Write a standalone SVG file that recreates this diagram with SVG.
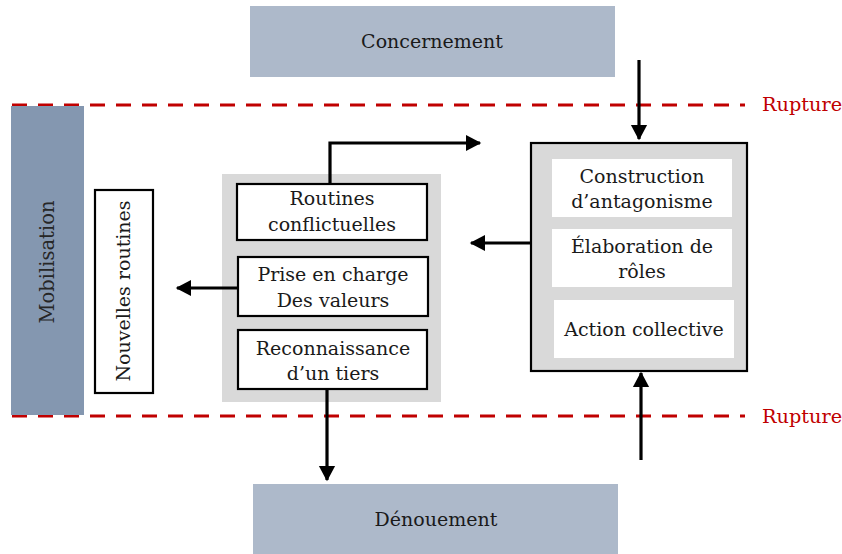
<svg xmlns="http://www.w3.org/2000/svg" width="842" height="554" viewBox="0 0 842 554">
<style>
text{font-family:"DejaVu Serif","Liberation Serif",serif;font-size:19px;fill:#1a1a1a;text-anchor:middle}
.rup{fill:#c00000;font-size:19.3px;text-anchor:start}
.band{fill:#adb9ca}
.box{fill:#fff;stroke:#000;stroke-width:2.2}
.inner{fill:#fff}
.dash{stroke:#c00000;stroke-width:3;stroke-dasharray:15 11;fill:none}
.conn{stroke:#000;stroke-width:3.2;fill:none}
</style>
<defs>
<marker id="ah" markerWidth="6" markerHeight="6" refX="4.4" refY="2.75" orient="auto" markerUnits="strokeWidth">
<path d="M0,0.2 L4.8,2.75 L0,5.3 Z" fill="#000"/>
</marker>
</defs>
<g id="ruptures">
<line class="dash" x1="12" y1="105" x2="745" y2="105"/>
<line class="dash" x1="12" y1="416" x2="745" y2="416"/>
<text class="rup" x="762" y="111">Rupture</text>
<text class="rup" x="762" y="423">Rupture</text>
</g>
<g id="concernement">
<rect class="band" x="250" y="6" width="365" height="71"/>
<text x="432" y="48">Concernement</text>
</g>
<g id="denouement">
<rect class="band" x="253" y="484" width="365" height="70"/>
<text x="436" y="526">Dénouement</text>
</g>
<g id="mobilisation">
<rect x="11" y="106" width="73" height="309" fill="#8497b0"/>
<text transform="translate(54,262) rotate(-90)" style="font-size:19.5px;fill:#262626">Mobilisation</text>
</g>
<g id="nouvelles-routines">
<rect class="box" x="95" y="190" width="58" height="203"/>
<text transform="translate(130,291) rotate(-90)">Nouvelles routines</text>
</g>
<g id="groupe-gauche">
<rect x="222" y="174" width="219" height="228" fill="#d9d9d9"/>
</g>
<g id="routines-conflictuelles">
<rect class="box" x="237" y="184" width="190" height="56"/>
<text x="332" y="205">Routines</text>
<text x="332" y="231">conflictuelles</text>
</g>
<g id="prise-en-charge">
<rect class="box" x="238" y="257" width="190" height="59"/>
<text x="333" y="281">Prise en charge</text>
<text x="333" y="307">Des valeurs</text>
</g>
<g id="reconnaissance">
<rect class="box" x="238" y="330" width="189" height="59"/>
<text x="333" y="355">Reconnaissance</text>
<text x="333" y="380">d’un tiers</text>
</g>
<g id="groupe-droite">
<rect x="531" y="143" width="216" height="228" fill="#d9d9d9" stroke="#000" stroke-width="2.2"/>
</g>
<g id="construction">
<rect class="inner" x="552" y="159" width="180" height="58"/>
<text x="642" y="183">Construction</text>
<text x="642" y="208">d’antagonisme</text>
</g>
<g id="elaboration">
<rect class="inner" x="552" y="229" width="180" height="58"/>
<text x="642" y="253">Élaboration de</text>
<text x="642" y="278">rôles</text>
</g>
<g id="action-collective">
<rect class="inner" x="554" y="300" width="180" height="58"/>
<text x="644" y="336">Action collective</text>
</g>
<g id="connectors">
<path class="conn" d="M330,184 V143 H480" marker-end="url(#ah)"/>
<path class="conn" d="M238,288 H177" marker-end="url(#ah)"/>
<path class="conn" d="M327,389 V480" marker-end="url(#ah)"/>
<path class="conn" d="M531,243 H471" marker-end="url(#ah)"/>
<path class="conn" d="M639,60 V139" marker-end="url(#ah)"/>
<path class="conn" d="M641,460 V373" marker-end="url(#ah)"/>
</g>
</svg>
